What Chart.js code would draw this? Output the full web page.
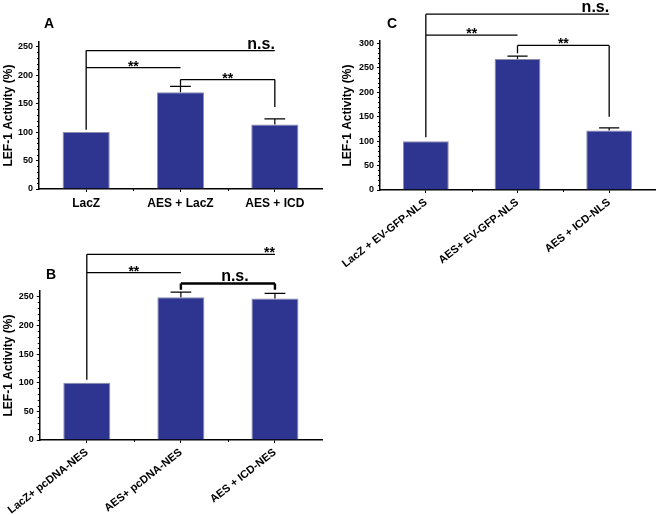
<!DOCTYPE html>
<html lang="en">
<head>
  <meta charset="UTF-8" />
  <title>LEF-1 Activity</title>
  <script src="https://cdn.jsdelivr.net/npm/chart.js"></script>
  <style>
    body {
      margin: 0;
      background: #fff;
      font-family: "Liberation Sans", Arial, sans-serif;
    }
    .page {
      position: relative;
      width: 662px;
      height: 515px;
      background: #fff;
    }
    .page canvas {
      position: absolute;
    }
    .letter {
      position: absolute;
      font-weight: bold;
      font-size: 14px;
      line-height: 14px;
      color: #000;
    }
  </style>
</head>
<body>
  <div class="page">
    <canvas id="chartA" width="330" height="215" style="left:0;top:0"></canvas>
    <canvas id="chartB" width="330" height="300" style="left:0;top:215px"></canvas>
    <canvas id="chartC" width="332" height="300" style="left:330px;top:0"></canvas>
    <div class="letter" style="left:44px;top:16px">A</div>
    <div class="letter" style="left:46px;top:267px">B</div>
    <div class="letter" style="left:387px;top:16px">C</div>
  </div>

  <script>
    // panel A
    const labelsA = ['LacZ', 'AES + LacZ', 'AES + ICD'];
    const valuesA = [100, 170, 113];
    const errorsA = [0, 10, 10];
    // [from, to, level, left leg end, right leg end, label, label align]
    const bracketsA = [
      [0, 2, 243, 104, null, 'n.s.', 'right'],
      [0, 1, 213, null, null, '**', 'center'],
      [1, 2, 192, 181, 144, '**', 'center']
    ];

    // panel B
    const labelsB = ['LacZ+ pcDNA-NES', 'AES+ pcDNA-NES', 'AES + ICD-NES'];
    const valuesB = [100, 249, 247];
    const errorsB = [0, 9, 9];
    const bracketsB = [
      [0, 2, 324, 105, null, '**', 'right'],
      [0, 1, 292, null, null, '**', 'center'],
      [1, 2, 273, 262, 262, 'n.s.', 'center']
    ];

    // panel C
    const labelsC = ['LacZ + EV-GFP-NLS', 'AES+ EV-GFP-NLS', 'AES + ICD-NLS'];
    const valuesC = [100, 268, 122];
    const errorsC = [0, 6, 5];
    const bracketsC = [
      [0, 2, 360, 108, null, 'n.s.', 'right'],
      [0, 1, 317, null, null, '**', 'center'],
      [1, 2, 296, 280, 150, '**', 'center']
    ];

    Chart.defaults.font.family = '"Liberation Sans", Arial, sans-serif';
    Chart.defaults.color = '#000';

    // minor ticks, error bars and significance brackets
    const marksPlugin = {
      id: 'marks',
      afterDraw(chart, args, opts) {
        const ctx = chart.ctx;
        const xs = chart.scales.x;
        const ys = chart.scales.y;
        ctx.save();
        ctx.strokeStyle = '#000';
        ctx.fillStyle = '#000';

        // minor ticks
        ctx.lineWidth = 1;
        ctx.beginPath();
        for (let v = 10; v < ys.max; v += 10) {
          if (v % 50 === 0) continue;
          const py = Math.round(ys.getPixelForValue(v)) + 0.5;
          ctx.moveTo(ys.right - 2, py);
          ctx.lineTo(ys.right, py);
        }
        for (let i = 0; i < chart.data.labels.length - 1; i++) {
          const px = Math.round(xs.getPixelForValue(i + 0.5)) + 0.5;
          ctx.moveTo(px, xs.top);
          ctx.lineTo(px, xs.top + 2);
        }
        ctx.stroke();

        // error bars (upper half only)
        const meta = chart.getDatasetMeta(0);
        const ds = chart.data.datasets[0];
        ctx.lineWidth = 1.2;
        meta.data.forEach((bar, i) => {
          const err = opts.errors[i];
          if (!err) return;
          const top = ys.getPixelForValue(ds.data[i] + err);
          const cap = bar.width * 0.22;
          ctx.beginPath();
          ctx.moveTo(bar.x, bar.y);
          ctx.lineTo(bar.x, top);
          ctx.moveTo(bar.x - cap, top);
          ctx.lineTo(bar.x + cap, top);
          ctx.stroke();
        });

        // brackets
        opts.brackets.forEach(b => {
          const [from, to, level, leftEnd, rightEnd, label, align] = b;
          const x1 = xs.getPixelForValue(from);
          const x2 = xs.getPixelForValue(to);
          const y = ys.getPixelForValue(level);
          const bold = label === 'n.s.' && align === 'center';
          ctx.lineWidth = bold ? 2.4 : 1.3;
          ctx.beginPath();
          ctx.moveTo(x1, y);
          ctx.lineTo(x2, y);
          if (leftEnd !== null) {
            ctx.moveTo(x1, y);
            ctx.lineTo(x1, ys.getPixelForValue(leftEnd));
          }
          if (rightEnd !== null) {
            ctx.moveTo(x2, y);
            ctx.lineTo(x2, ys.getPixelForValue(rightEnd));
          }
          ctx.stroke();

          const size = label === 'n.s.' ? 16 : 14;
          ctx.font = 'bold ' + size + 'px "Liberation Sans", Arial, sans-serif';
          ctx.textBaseline = 'alphabetic';
          if (align === 'right') {
            ctx.textAlign = 'right';
            ctx.fillText(label, x2, label === '**' ? y + 3 : y - 2);
          } else {
            ctx.textAlign = 'center';
            const mid = (x1 + x2) / 2 + (bold ? 7 : 0);
            ctx.fillText(label, mid, label === '**' ? y + 3 : y - 3);
          }
        });
        ctx.restore();
      }
    };

    function makePanel(id, labels, values, errors, brackets, cfg) {
      new Chart(document.getElementById(id), {
        type: 'bar',
        data: {
          labels: labels,
          datasets: [{
            data: values,
            backgroundColor: '#2e3590',
            borderColor: '#8d8fa8',
            borderWidth: 1,
            categoryPercentage: 1,
            barPercentage: 0.5
          }]
        },
        plugins: [marksPlugin],
        options: {
          responsive: false,
          animation: false,
          devicePixelRatio: 1,
          layout: { padding: { left: 0, right: cfg.padRight, top: cfg.padTop, bottom: 0 } },
          plugins: {
            legend: { display: false },
            tooltip: { enabled: false },
            marks: { errors: errors, brackets: brackets }
          },
          scales: {
            x: {
              border: { color: '#000', width: 1.5 },
              grid: { display: true, drawOnChartArea: false, offset: false, tickLength: 3, color: '#000' },
              ticks: {
                font: { size: cfg.xFont, weight: 'bold' },
                color: '#000',
                padding: cfg.xPad,
                minRotation: cfg.rotation,
                maxRotation: cfg.rotation,
                autoSkip: false
              },
              afterFit(s) { s.height = cfg.xHeight; }
            },
            y: {
              min: 0,
              max: cfg.yMax,
              border: { color: '#000', width: 1.5 },
              grid: { display: true, drawOnChartArea: false, tickLength: 3, color: '#000' },
              ticks: {
                stepSize: 50,
                includeBounds: false,
                font: { size: 9, weight: 'bold' },
                color: '#000',
                padding: 3
              },
              title: {
                display: true,
                text: 'LEF-1 Activity (%)',
                font: { size: 12, weight: 'bold' },
                color: '#000',
                padding: { top: cfg.titlePad, bottom: 0 }
              },
              afterFit(s) { s.width = cfg.yWidth; }
            }
          }
        }
      });
    }

    makePanel('chartA', labelsA, valuesA, errorsA, bracketsA,
      { padRight: 8, padTop: 42, yMax: 258, xHeight: 26, yWidth: 39, xFont: 12, xPad: 4, rotation: 0, titlePad: 1 });
    makePanel('chartB', labelsB, valuesB, errorsB, bracketsB,
      { padRight: 8, padTop: 76, yMax: 260, xHeight: 75, yWidth: 39, xFont: 11, xPad: 3, rotation: 38, titlePad: 1 });
    makePanel('chartC', labelsC, valuesC, errorsC, bracketsC,
      { padRight: 7, padTop: 41, yMax: 305, xHeight: 110, yWidth: 50, xFont: 11, xPad: 3, rotation: 38, titlePad: 10 });
  </script>
</body>
</html>
